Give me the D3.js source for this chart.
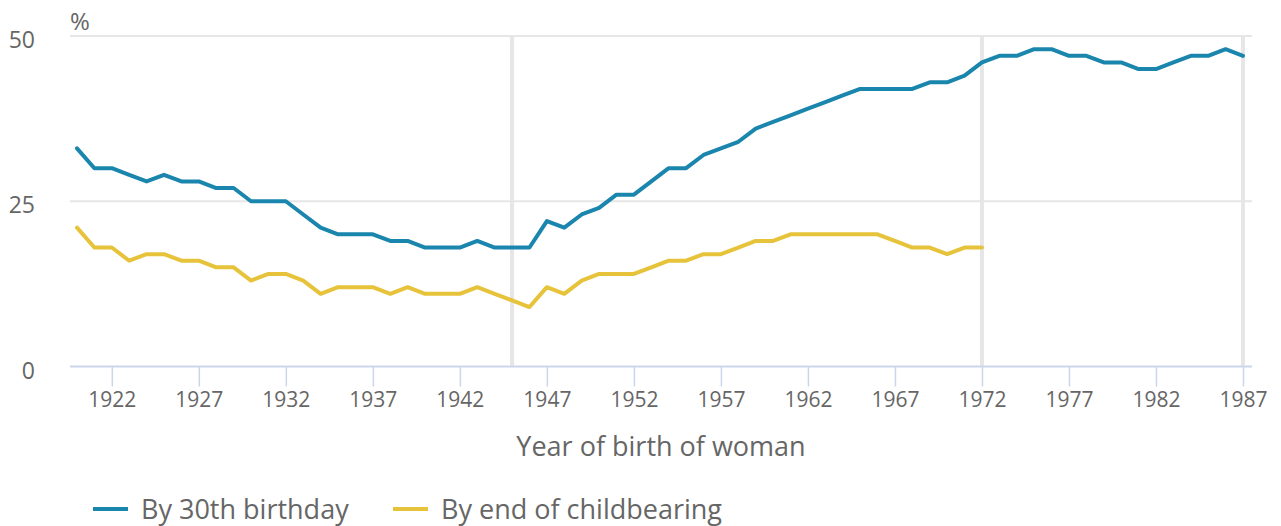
<!DOCTYPE html>
<html>
<head>
<meta charset="utf-8">
<script src="https://cdn.jsdelivr.net/npm/d3@7"></script>
<style>
  body { margin: 0; background: #fff; }
  text { font-family: "Open Sans", sans-serif; fill: #666; }
</style>
</head>
<body>
<div id="my_dataviz"></div>
<script>
// data
var years = d3.range(1920, 1988);
var by30 = [33, 30, 30, 29, 28, 29, 28, 28, 27, 27,
            25, 25, 25, 23, 21, 20, 20, 20, 19, 19,
            18, 18, 18, 19, 18, 18, 18, 22, 21, 23,
            24, 26, 26, 28, 30, 30, 32, 33, 34, 36,
            37, 38, 39, 40, 41, 42, 42, 42, 42, 43,
            43, 44, 46, 47, 47, 48, 48, 47, 47, 46,
            46, 45, 45, 46, 47, 47, 48, 47];
var byEnd = [21, 18, 18, 16, 17, 17, 16, 16, 15, 15,
             13, 14, 14, 13, 11, 12, 12, 12, 11, 12,
             11, 11, 11, 12, 11, 10, 9, 12, 11, 13,
             14, 14, 14, 15, 16, 16, 17, 17, 18, 19,
             19, 20, 20, 20, 20, 20, 20, 19, 18, 18,
             17, 18, 18];
var xTicks = d3.range(1922, 1988, 5);
var yTicks = [0, 25, 50];
var markerYears = [1945, 1972, 1987];
var seriesNames = ["By 30th birthday", "By end of childbearing"];
var colors = ["#1b86ad", "#e6c33a"];

var width = 1281, height = 526;
var plotLeft = 70, plotRight = 1252, plotTop = 36, plotBottom = 366.5;

var svg = d3.select("#my_dataviz")
  .append("svg")
    .attr("width", width)
    .attr("height", height);

var x = d3.scaleLinear()
  .domain([1920, 1987])
  .range([77, 1243]);

var y = d3.scaleLinear()
  .domain([0, 50])
  .range([plotBottom, plotTop]);

// horizontal grid lines
svg.append("g")
  .selectAll("line")
  .data(yTicks.filter(function(d) { return d > 0; }))
  .enter()
  .append("line")
    .attr("x1", plotLeft)
    .attr("x2", plotRight)
    .attr("y1", function(d) { return y(d); })
    .attr("y2", function(d) { return y(d); })
    .style("stroke", "#e6e6e6")
    .style("stroke-width", 2);

// vertical marker lines
svg.append("g")
  .selectAll("line")
  .data(markerYears)
  .enter()
  .append("line")
    .attr("x1", function(d) { return x(d); })
    .attr("x2", function(d) { return x(d); })
    .attr("y1", y(50))
    .attr("y2", y(0))
    .style("stroke", "#e6e6e6")
    .style("stroke-width", 4);

// y labels
svg.append("g")
  .selectAll("text")
  .data(yTicks)
  .enter()
  .append("text")
    .attr("x", 35)
    .attr("y", function(d) { return y(d) + 4; })
    .attr("dy", "0.35em")
    .style("text-anchor", "end")
    .style("font-size", "23px")
    .text(function(d) { return d; });

svg.append("text")
  .attr("x", 70)
  .attr("y", 30)
  .style("font-size", "24px")
  .text("%");

// x axis
var x_axis = d3.axisBottom(x)
  .tickValues(xTicks)
  .tickFormat(d3.format("d"))
  .tickSize(20)
  .tickPadding(6);

var gx = svg.append("g")
  .attr("transform", "translate(0," + plotBottom + ")")
  .call(x_axis);

gx.select(".domain").remove();
gx.insert("line", ":first-child")
  .attr("x1", plotLeft)
  .attr("x2", plotRight)
  .style("stroke", "#ccd6eb")
  .style("stroke-width", 2);
gx.selectAll(".tick line")
  .style("stroke", "#ccd6eb")
  .style("stroke-width", 1.5);
gx.selectAll(".tick text")
  .style("font-size", "21px")
  .style("fill", "#666");

// x axis title
svg.append("text")
  .attr("x", (plotLeft + plotRight) / 2)
  .attr("y", 456)
  .style("text-anchor", "middle")
  .style("font-size", "27px")
  .text("Year of birth of woman");

// lines
var line = d3.line()
  .x(function(d, i) { return x(years[i]); })
  .y(function(d) { return y(d); });

[by30, byEnd].forEach(function(s, k) {
  svg.append("path")
    .datum(s)
    .attr("d", line)
    .style("fill", "none")
    .style("stroke", colors[k])
    .style("stroke-width", 4)
    .style("stroke-linejoin", "round")
    .style("stroke-linecap", "round");
});

// legend
var legendX = [93, 393];
var legend = svg.append("g")
  .selectAll("g")
  .data(seriesNames)
  .enter()
  .append("g")
    .attr("transform", function(d, i) { return "translate(" + legendX[i] + ",509)"; });

legend.append("line")
  .attr("x1", 0)
  .attr("x2", 35)
  .style("stroke", function(d, i) { return colors[i]; })
  .style("stroke-width", 4);

legend.append("text")
  .attr("x", 48)
  .attr("y", 10)
  .style("font-size", "27px")
  .text(function(d) { return d; });
</script>
</body>
</html>
